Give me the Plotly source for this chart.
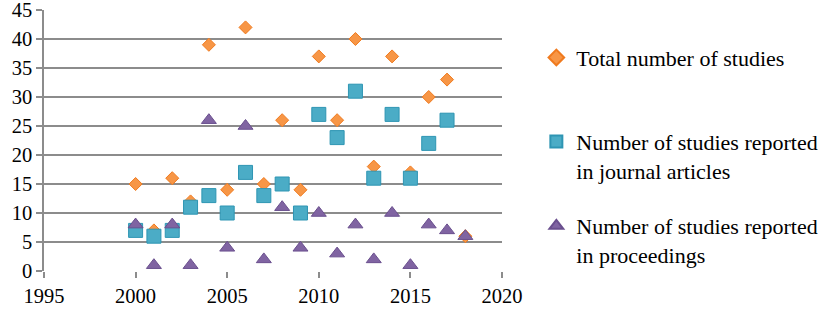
import plotly.graph_objects as go

years = list(range(2000, 2019))
total = [15, 7, 16, 12, 39, 14, 42, 15, 26, 14, 37, 26, 40, 18, 37, 17, 30, 33, 6]
journal_years = list(range(2000, 2018))
journal = [7, 6, 7, 11, 13, 10, 17, 13, 15, 10, 27, 23, 31, 16, 27, 16, 22, 26]
proceedings = [8, 1, 8, 1, 26, 4, 25, 2, 11, 4, 10, 3, 8, 2, 10, 1, 8, 7, 6]

x_ticks = [1995, 2000, 2005, 2010, 2015, 2020]
y_ticks = [0, 5, 10, 15, 20, 25, 30, 35, 40, 45]

FONT = "Liberation Serif, Times New Roman, serif"

fig = go.Figure()
fig.add_trace(go.Scatter(
    x=years, y=total, mode="markers", name="Total number of studies<br> ",
    legendgroup="a",
    marker=dict(symbol="diamond", size=10, color="#F79646",
                line=dict(color="#F07A1E", width=1))))
fig.add_trace(go.Scatter(
    x=journal_years, y=journal, mode="markers",
    name="Number of studies reported<br>in journal articles",
    legendgroup="b",
    marker=dict(symbol="square", size=14, color="#4BACC6",
                line=dict(color="#2E95B3", width=1))))
fig.add_trace(go.Scatter(
    x=years, y=proceedings, mode="markers",
    name="Number of studies reported<br>in proceedings",
    legendgroup="c",
    marker=dict(symbol="triangle-up", size=13, color="#8064A2",
                line=dict(color="#6A4F8E", width=1))))

fig.update_layout(
    width=829, height=309,
    margin=dict(l=44.4, r=327.3, t=10, b=38, autoexpand=False),
    paper_bgcolor="white", plot_bgcolor="white",
    font=dict(family=FONT, size=20, color="black"),
    showlegend=True,
    legend=dict(x=1.075, xanchor="left", y=0.898, yanchor="top",
                valign="top", tracegroupgap=24,
                font=dict(family=FONT, size=22, color="black"),
                itemsizing="constant"),
)
fig.update_xaxes(range=[1995, 2020], tickvals=x_ticks, showgrid=False,
                 zeroline=False, showline=False, ticks="outside",
                 ticklen=6, tickcolor="#8C8C8C", tickwidth=1.5,
                 automargin=False, ticklabeloverflow="allow",
                 tickfont=dict(family=FONT, size=20.5, color="black"))
fig.update_yaxes(range=[0, 45], tickvals=y_ticks, showgrid=True,
                 gridcolor="#8C8C8C", gridwidth=1.5, zeroline=False,
                 showline=True, linecolor="#8C8C8C", linewidth=1.5,
                 ticks="outside", ticklen=6, tickcolor="#8C8C8C",
                 tickwidth=1.5, automargin=False, ticklabeloverflow="allow",
                 tickfont=dict(family=FONT, size=20.5, color="black"))

# remove the page's default 8px body margin so the figure sits at the corner
fig.write_html("out.html",
               config={"displayModeBar": False},
               post_script="document.body.style.margin='0';"
                           "document.body.style.overflow='hidden';")
